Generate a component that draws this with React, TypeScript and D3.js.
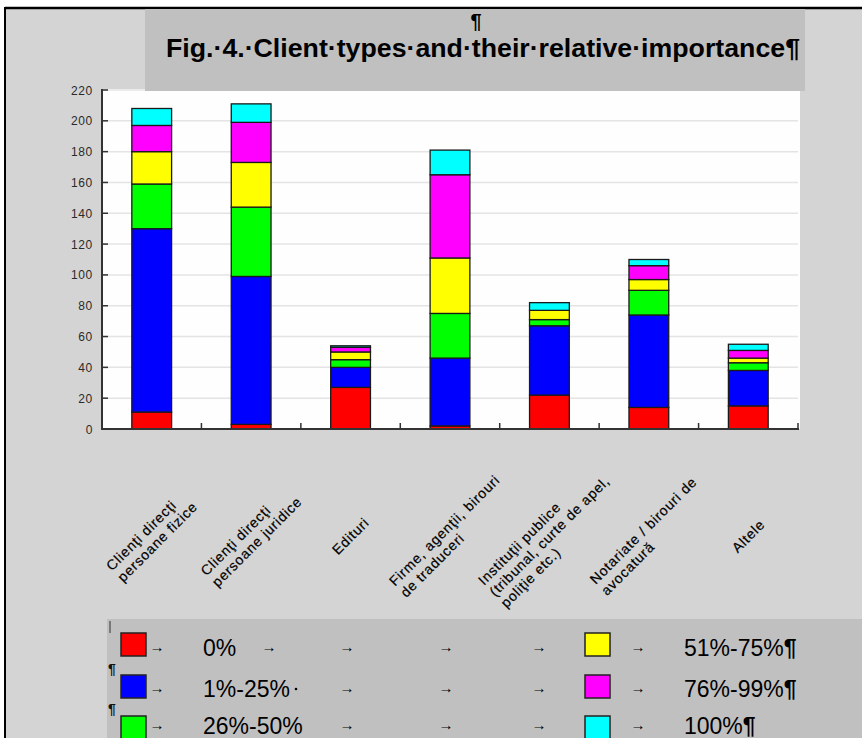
import React from "react";
import * as d3 from "d3";

// Client categories (one stacked bar each); lines are the wrapped label rows
const categories: string[][] = [
  ["Clienţi direcţi", "persoane fizice"],
  ["Clienţi direcţi", "persoane juridice"],
  ["Edituri"],
  ["Firme, agenţii, birouri", "de traduceri"],
  ["Instituţii publice", "(tribunal, curte de apel,", "poliţie etc.)"],
  ["Notariate / birouri de", "avocatură"],
  ["Altele"],
];

// Share-of-work bands, bottom to top of each stack
const seriesNames = ["0%", "1%-25%", "26%-50%", "51%-75%", "76%-99%", "100%"];
const seriesColors = ["#ff0000", "#0000ff", "#00ff00", "#ffff00", "#ff00ff", "#00ffff"];

const share0 = [11, 3, 27, 2, 22, 14, 15];
const share1to25 = [119, 96, 13, 44, 45, 60, 23];
const share26to50 = [29, 45, 5, 29, 4, 16, 5];
const share51to75 = [21, 29, 5, 36, 6, 7, 3];
const share76to99 = [17, 26, 3, 54, 0, 9, 5];
const share100 = [11, 12, 1, 16, 5, 4, 4];

const seriesValues = [share0, share1to25, share26to50, share51to75, share76to99, share100];

const yTicks = [0, 20, 40, 60, 80, 100, 120, 140, 160, 180, 200, 220];

const W = 862;
const H = 738;
const FONT = "'Liberation Sans', Arial, Helvetica, sans-serif";

const plot = { left: 102, right: 798, top: 90, bottom: 429 };

const LABEL_SIZE = 14;
const LABEL_SPACING = 0.8;
const LABEL_LINE = 16;

let measureCtx: CanvasRenderingContext2D | null = null;
function textWidth(s: string, size: number, spacing: number): number {
  if (!measureCtx) {
    const c = document.createElement("canvas");
    measureCtx = c.getContext("2d");
  }
  if (!measureCtx) return s.length * size * 0.5;
  measureCtx.font = `${size}px ${FONT}`;
  return measureCtx.measureText(s).width + spacing * s.length;
}

export default function App() {
  const keys = seriesNames.map((_, i) => `s${i}`);
  const rows = categories.map((_, ci) => {
    const r: Record<string, number> = { idx: ci };
    seriesValues.forEach((vals, si) => (r[keys[si]] = vals[ci]));
    return r;
  });
  const stacked = d3.stack<Record<string, number>>().keys(keys)(rows);

  const x = d3
    .scaleBand<number>()
    .domain(categories.map((_, i) => i))
    .range([plot.left, plot.right])
    .paddingInner(0.6)
    .paddingOuter(0.3);
  const step = x.step();
  const y = d3.scaleLinear().domain([0, 220]).range([plot.bottom, plot.top]);

  // category boundary ticks on the x axis
  const boundaries = categories.map((_, i) => plot.left + step * (i + 1));

  const legendRows = [
    { left: 0, right: 3, top: 633, base: 656, arrows: [157, 269, 347, 446, 539, 638] },
    { left: 1, right: 4, top: 675, base: 697, arrows: [157, 347, 446, 539, 638] },
    { left: 2, right: 5, top: 716, base: 734, arrows: [157, 347, 446, 539, 638] },
  ];

  return (
    <div style={{ position: "absolute", left: 0, top: 0 }}>
      <svg width={W} height={H} style={{ display: "block" }} fontFamily={FONT}>
        <rect x={0} y={0} width={W} height={H} fill="#ffffff" />
        <rect x={5} y={8} width={W - 5} height={H - 8} fill="#d4d4d4" />
        <line x1={5} y1={8} x2={W} y2={8} stroke="#000" strokeWidth={2.5} />
        <line x1={5} y1={7} x2={5} y2={H} stroke="#000" strokeWidth={2} />

        {/* plot area */}
        <rect x={plot.left + 1} y={plot.top - 1} width={plot.right - plot.left + 1} height={plot.bottom - plot.top + 1} fill="#fefefe" />
        {yTicks.map((t) =>
          t === 0 ? null : (
            <line key={`g${t}`} x1={plot.left} x2={plot.right} y1={y(t)} y2={y(t)} stroke="#e4e4e4" strokeWidth={1.5} />
          )
        )}

        {/* stacked bars */}
        {stacked.map((layer, si) => (
          <g key={layer.key} fill={seriesColors[si]} stroke="#1a1a1a" strokeWidth={1.3}>
            {layer.map((d, ci) => (
              <rect
                key={ci}
                x={x(ci)!}
                y={y(d[1])}
                width={x.bandwidth()}
                height={Math.max(0, y(d[0]) - y(d[1]))}
              />
            ))}
          </g>
        ))}

        {/* axes */}
        <line x1={plot.left} x2={plot.left} y1={plot.top - 1} y2={plot.bottom + 1} stroke="#333" strokeWidth={2} />
        <line x1={plot.left} x2={plot.right + 1} y1={plot.bottom} y2={plot.bottom} stroke="#333" strokeWidth={2} />
        {yTicks.map((t) => (
          <g key={`t${t}`}>
            <line x1={plot.left} x2={plot.left + 6} y1={y(t)} y2={y(t)} stroke="#333" strokeWidth={1.5} />
            <text x={93} y={y(t) + 4.5} textAnchor="end" fontSize={12} letterSpacing={0.7} fill="#2a2a2a">
              {t}
            </text>
          </g>
        ))}
        {boundaries.map((bx, i) => (
          <line key={`b${i}`} x1={bx} x2={bx} y1={plot.bottom} y2={plot.bottom - 6} stroke="#333" strokeWidth={1.5} />
        ))}

        {/* rotated category labels */}
        {categories.map((lines, ci) => {
          const cx = x(ci)! + x.bandwidth() / 2;
          const maxW = d3.max(lines, (l) => textWidth(l, LABEL_SIZE, LABEL_SPACING)) || 0;
          return (
            <g key={`c${ci}`} transform={`translate(${cx},536) rotate(-45)`}>
              {lines.map((l, li) => (
                <text
                  key={li}
                  x={-maxW / 2}
                  y={(li - (lines.length - 1) / 2) * LABEL_LINE + 5}
                  fontSize={LABEL_SIZE}
                  letterSpacing={LABEL_SPACING}
                  fill="#000"
                  stroke="#000"
                  strokeWidth={0.2}
                >
                  {l}
                </text>
              ))}
            </g>
          );
        })}

        {/* title block */}
        <rect x={145} y={9} width={660} height={82} fill="#c0c0c0" />
        <text x={476} y={28} textAnchor="middle" fontSize={20} fontWeight="bold" fill="#000">
          ¶
        </text>
        <text x={166} y={57} fontSize={26} fontWeight="bold" fill="#000" textLength={634} lengthAdjust="spacingAndGlyphs">
          Fig.·4.·Client·types·and·their·relative·importance¶
        </text>

        {/* legend block */}
        <rect x={107} y={619} width={W - 107} height={H - 619} fill="#c0c0c0" />
        <line x1={110} x2={110} y1={621} y2={633} stroke="#333" strokeWidth={1} />
        <text x={108} y={674} fontSize={14} fontWeight="bold" fill="#111">¶</text>
        <text x={108} y={714} fontSize={14} fontWeight="bold" fill="#111">¶</text>
        {legendRows.map((r, ri) => (
          <g key={`l${ri}`}>
            <rect x={121} y={r.top} width={25} height={23} fill={seriesColors[r.left]} stroke="#222" strokeWidth={1.5} />
            <text x={203} y={r.base} fontSize={23} fill="#000">
              {seriesNames[r.left]}
            </text>
            {ri === 1 && <circle cx={296} cy={r.base - 8} r={1.3} fill="#000" />}
            <rect x={585} y={r.top} width={25} height={23} fill={seriesColors[r.right]} stroke="#222" strokeWidth={1.5} />
            <text x={684} y={r.base} fontSize={23} fill="#000">
              {seriesNames[r.right]}
              <tspan fontWeight="bold">¶</tspan>
            </text>
            {r.arrows.map((ax, ai) => (
              <text key={ai} x={ax} y={r.base - 4} fontSize={15} fontWeight="bold" textAnchor="middle" fill="#000">
                →
              </text>
            ))}
          </g>
        ))}
      </svg>
    </div>
  );
}
